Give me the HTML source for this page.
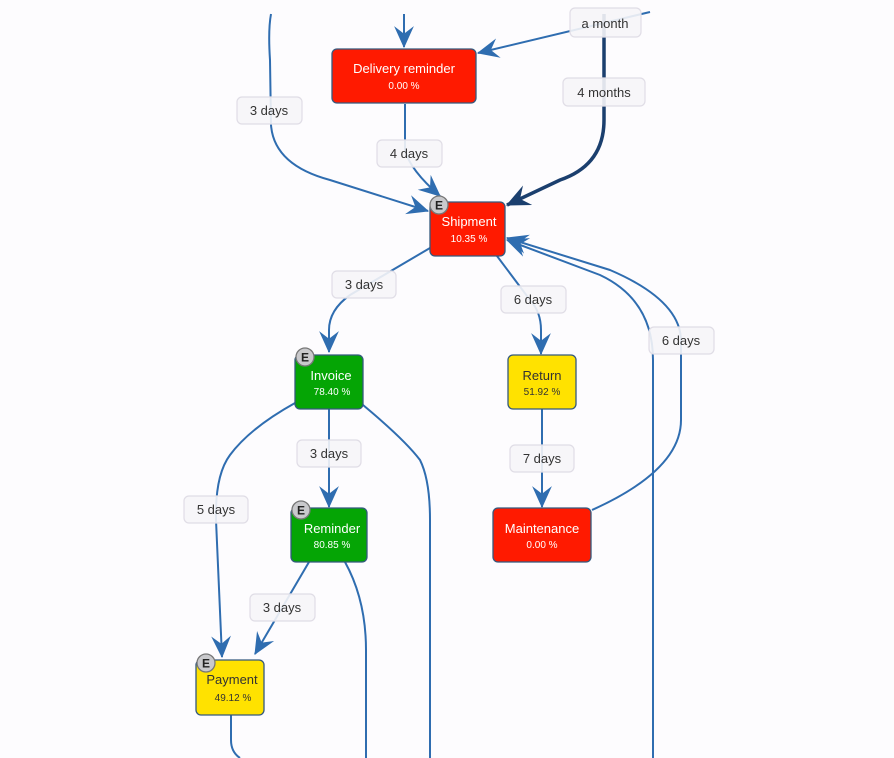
<!DOCTYPE html>
<html><head><meta charset="utf-8"><style>
body{margin:0;background:#fdfcfe;}
svg{display:block;font-family:"Segoe UI","Liberation Sans",sans-serif;}
.n{stroke:#34597e;stroke-width:1.3}
.e{fill:none;stroke:#2f6db0;stroke-width:2}
.lb{fill:#f6f5f8;stroke:#e0dde6;stroke-width:1.2;fill-opacity:0.9}
.lt{font-size:13px;fill:#333;text-anchor:middle}
.t{font-size:13px;text-anchor:middle}
.p{font-size:10px;text-anchor:middle}
</style></head><body>
<svg width="894" height="758" viewBox="0 0 894 758">
<defs>
<marker id="a" viewBox="0 0 20 20" refX="19" refY="10" markerWidth="22" markerHeight="22" orient="auto" markerUnits="userSpaceOnUse">
<path d="M0,1 L20,10 L0,19 L7,10 Z" fill="#2f6db0"/></marker>
<marker id="b" viewBox="0 0 20 20" refX="19" refY="10" markerWidth="24" markerHeight="24" orient="auto" markerUnits="userSpaceOnUse">
<path d="M0,1 L20,10 L0,19 L7,10 Z" fill="#1b3f6e"/></marker>
</defs>
<rect width="894" height="758" fill="#fdfcfe"/>
<path class="e" d="M404,14 L404,47" marker-end="url(#a)"/>
<path class="e" d="M650,12 L478,53" marker-end="url(#a)"/>
<path d="M604,14 L604,120 Q604,165 560,180 L507,205" fill="none" stroke="#1b3f6e" stroke-width="3.5" marker-end="url(#b)"/>
<path class="e" d="M271,14 Q268,30 270,60 L271,125 Q274,165 330,180 L428,211" marker-end="url(#a)"/>
<path class="e" d="M405,104 L405,150 Q410,170 440,196" marker-end="url(#a)"/>
<path class="e" d="M430,248 L350,295 Q329,310 329,330 L329,352" marker-end="url(#a)"/>
<path class="e" d="M497,256 L530,300 Q541,312 541,330 L541,354" marker-end="url(#a)"/>
<path class="e" d="M542,409 L542,507" marker-end="url(#a)"/>
<path class="e" d="M592,510 Q681,470 681,420 L681,340 Q680,300 610,270 L507,238" marker-end="url(#a)"/>
<path class="e" d="M653,758 L653,360 Q653,300 600,275 L507,240" marker-end="url(#a)"/>
<path class="e" d="M329,409 L329,507" marker-end="url(#a)"/>
<path class="e" d="M295,403 Q250,428 230,455 Q215,475 216,520 L222,657" marker-end="url(#a)"/>
<path class="e" d="M363,405 Q405,440 420,460 Q430,480 430,520 L430,758"/>
<path class="e" d="M309,562 L255,654" marker-end="url(#a)"/>
<path class="e" d="M345,562 Q366,600 366,650 L366,758"/>
<path class="e" d="M231,715 L231,740 Q231,752 240,758"/>
<rect class="lb" x="570" y="8" width="71" height="29" rx="5"/><text class="lt" x="605" y="28">a month</text>
<rect class="lb" x="563" y="78" width="82" height="28" rx="5"/><text class="lt" x="604" y="97">4 months</text>
<rect class="lb" x="237" y="97" width="65" height="27" rx="5"/><text class="lt" x="269" y="115">3 days</text>
<rect class="lb" x="377" y="140" width="65" height="27" rx="5"/><text class="lt" x="409" y="158">4 days</text>
<rect class="lb" x="332" y="271" width="64" height="27" rx="5"/><text class="lt" x="364" y="289">3 days</text>
<rect class="lb" x="501" y="286" width="65" height="27" rx="5"/><text class="lt" x="533" y="304">6 days</text>
<rect class="lb" x="649" y="327" width="65" height="27" rx="5"/><text class="lt" x="681" y="345">6 days</text>
<rect class="lb" x="297" y="440" width="64" height="27" rx="5"/><text class="lt" x="329" y="458">3 days</text>
<rect class="lb" x="510" y="445" width="64" height="27" rx="5"/><text class="lt" x="542" y="463">7 days</text>
<rect class="lb" x="184" y="496" width="64" height="27" rx="5"/><text class="lt" x="216" y="514">5 days</text>
<rect class="lb" x="250" y="594" width="65" height="27" rx="5"/><text class="lt" x="282" y="612">3 days</text>
<rect class="n" x="332" y="49" width="144" height="54" rx="5" fill="#ff1a00"/>
<text class="t" x="404" y="73" fill="#fff">Delivery reminder</text><text class="p" x="404" y="89" fill="#fff">0.00 %</text>
<rect class="n" x="430" y="202" width="75" height="54" rx="5" fill="#ff1a00"/>
<text class="t" x="469" y="226" fill="#fff">Shipment</text><text class="p" x="469" y="242" fill="#fff">10.35 %</text>
<rect class="n" x="295" y="355" width="68" height="54" rx="5" fill="#05a505"/>
<text class="t" x="331" y="380" fill="#fff">Invoice</text><text class="p" x="332" y="395" fill="#fff">78.40 %</text>
<rect class="n" x="508" y="355" width="68" height="54" rx="5" fill="#ffe200"/>
<text class="t" x="542" y="380" fill="#333">Return</text><text class="p" x="542" y="395" fill="#333">51.92 %</text>
<rect class="n" x="291" y="508" width="76" height="54" rx="5" fill="#05a505"/>
<text class="t" x="332" y="533" fill="#fff">Reminder</text><text class="p" x="332" y="548" fill="#fff">80.85 %</text>
<rect class="n" x="493" y="508" width="98" height="54" rx="5" fill="#ff1a00"/>
<text class="t" x="542" y="533" fill="#fff">Maintenance</text><text class="p" x="542" y="548" fill="#fff">0.00 %</text>
<rect class="n" x="196" y="660" width="68" height="55" rx="5" fill="#ffe200"/>
<text class="t" x="232" y="684" fill="#333">Payment</text><text class="p" x="233" y="701" fill="#333">49.12 %</text>
<g font-size="12" font-weight="bold" text-anchor="middle" fill="#222">
<circle cx="439" cy="205" r="9" fill="#c9c9cc" stroke="#777" stroke-width="1.3"/><text x="439" y="209.5">E</text>
<circle cx="305" cy="357" r="9" fill="#c9c9cc" stroke="#777" stroke-width="1.3"/><text x="305" y="361.5">E</text>
<circle cx="301" cy="510" r="9" fill="#c9c9cc" stroke="#777" stroke-width="1.3"/><text x="301" y="514.5">E</text>
<circle cx="206" cy="663" r="9" fill="#c9c9cc" stroke="#777" stroke-width="1.3"/><text x="206" y="667.5">E</text>
</g>
</svg>
</body></html>
